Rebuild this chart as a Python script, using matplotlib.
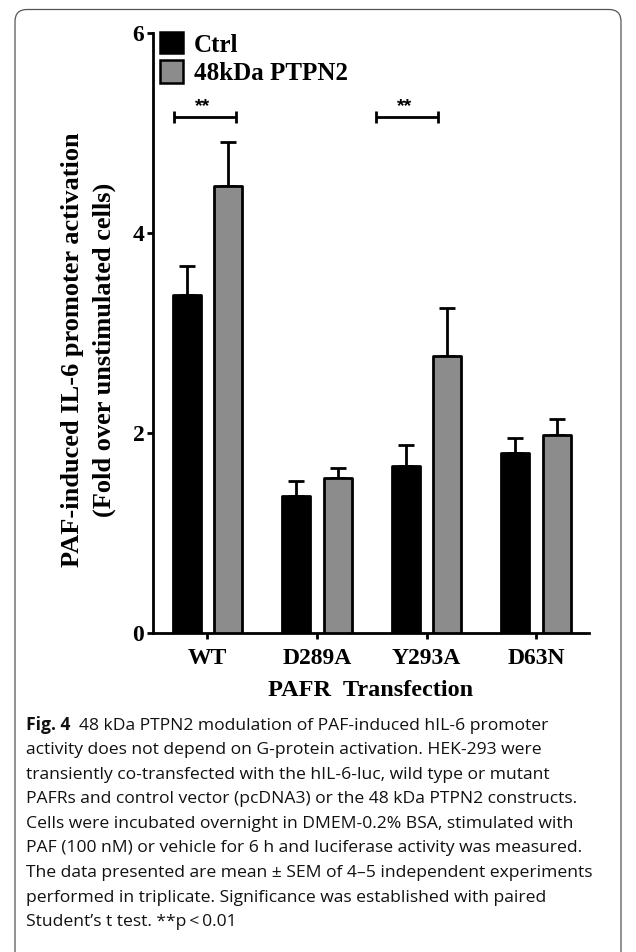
import matplotlib
matplotlib.use("Agg")
import matplotlib.pyplot as plt
import numpy as np
from matplotlib.patches import Rectangle, FancyBboxPatch

# ---------------- data ----------------
categories = ["WT", "D289A", "Y293A", "D63N"]
series_names = ["Ctrl", "48kDa PTPN2"]
ctrl_vals = [3.38, 1.37, 1.67, 1.795]
ctrl_err = [0.29, 0.15, 0.205, 0.155]
ptpn2_vals = [4.47, 1.55, 2.77, 1.98]
ptpn2_err = [0.445, 0.10, 0.48, 0.16]
yticks = [0, 2, 4, 6]
# significance brackets: (x_start, x_end, y, label)
sig_brackets = [(-0.31, 0.26, 5.16, "**"), (1.54, 2.10, 5.16, "**")]

ylabel_lines = ["PAF-induced IL-6 promoter activation", "(Fold over unstimulated cells)"]
xlabel = "PAFR  Transfection"
caption_bold = "Fig. 4"
caption_lines = [
    "48 kDa PTPN2 modulation of PAF-induced hIL-6 promoter",
    "activity does not depend on G-protein activation. HEK-293 were",
    "transiently co-transfected with the hIL-6-luc, wild type or mutant",
    "PAFRs and control vector (pcDNA3) or the 48 kDa PTPN2 constructs.",
    "Cells were incubated overnight in DMEM-0.2% BSA, stimulated with",
    "PAF (100 nM) or vehicle for 6 h and luciferase activity was measured.",
    "The data presented are mean \u00b1 SEM of 4\u20135 independent experiments",
    "performed in triplicate. Significance was established with paired",
    "Student\u2019s t test. **p\u2009<\u20090.01",
]

W, H = 636, 952
DPI = 100
fig = plt.figure(figsize=(W / DPI, H / DPI), dpi=DPI)
fig.patch.set_facecolor("white")

serif = ["Liberation Serif", "DejaVu Serif"]
sans = ["Open Sans", "DejaVu Sans"]
GRAY = "#8c8c8c"

# axes in pixel layout
ax_l, ax_r, ax_t, ax_b = 152.7, 589.3, 33.3, 632.7
ax = fig.add_axes([ax_l / W, 1 - ax_b / H, (ax_r - ax_l) / W, (ax_b - ax_t) / H])

x = np.arange(len(categories))
off = 0.19
bw = 0.255
lw_bar = 2.0

for vals, errs, xpos, color in [(ctrl_vals, ctrl_err, x - off, "black"),
                                (ptpn2_vals, ptpn2_err, x + off, GRAY)]:
    ax.errorbar(xpos, vals, yerr=[np.zeros(len(errs)), errs], fmt="none",
                ecolor="black", elinewidth=2.0, capsize=5.6, capthick=2.0, zorder=2)
    ax.bar(xpos, vals, width=bw, color=color, edgecolor="black",
           linewidth=lw_bar, zorder=3, joinstyle="round")

for x0, x1, yb, lab in sig_brackets:
    ax.plot([x0, x1], [yb, yb], color="black", lw=2.0, solid_capstyle="butt", zorder=4)
    for xx in (x0, x1):
        ax.plot([xx, xx], [yb - 0.058, yb + 0.058], color="black", lw=2.0,
                solid_capstyle="butt", zorder=4)
    ax.text((x0 + x1) / 2 - 0.02, yb + 0.02, lab, ha="center", va="bottom",
            fontsize=14, fontweight="bold", family=["Liberation Sans", "DejaVu Sans"])

ax.set_xlim(-0.5, 3.485)
ax.set_ylim(0, 6)
ax.set_yticks(yticks)
ax.set_yticklabels([str(t) for t in yticks])
ax.set_xticks(x)
ax.set_xticklabels(categories)
for s in ["top", "right"]:
    ax.spines[s].set_visible(False)
for s in ["left", "bottom"]:
    ax.spines[s].set_linewidth(2.0)
ax.tick_params(axis="both", direction="out", length=4.5, width=2.0, color="black")
ax.tick_params(axis="y", pad=1.5)
ax.tick_params(axis="x", pad=6.5)
for lab in ax.get_yticklabels() + ax.get_xticklabels():
    lab.set_family(serif)
    lab.set_fontweight("bold")
    lab.set_fontsize(17)

# x label
fig.text((ax_l + ax_r) / 2 / W, 1 - 690 / H, xlabel, ha="center", va="center",
         fontsize=17.5, fontweight="bold", family=serif)

# y label (two lines)
fig.text(73 / W, 1 - 350 / H, ylabel_lines[0], rotation=90, ha="center", va="center",
         fontsize=19, fontweight="bold", family=serif)
fig.text(104 / W, 1 - 350 / H, ylabel_lines[1], rotation=90, ha="center", va="center",
         fontsize=19, fontweight="bold", family=serif)

# legend (manual)
leg_rows = [(32, 53, "black"), (60, 83, GRAY)]
for (top, bot, col), name in zip(leg_rows, series_names):
    fig.patches.append(Rectangle((160 / W, 1 - bot / H), 23 / W, (bot - top) / H,
                                 facecolor=col, edgecolor="black", linewidth=1.8,
                                 transform=fig.transFigure, figure=fig))
    fig.text(194 / W, 1 - (top + bot) / 2 / H, name, ha="left", va="center_baseline",
             fontsize=18, fontweight="bold", family=serif)

# border box (rounded, open at bottom)
border = FancyBboxPatch((15 / DPI, -0.5), (621 - 15) / DPI, (H - 9.5) / DPI + 0.5,
                        boxstyle="round,pad=0,rounding_size=0.12",
                        facecolor="none", edgecolor="#555555", linewidth=0.9,
                        transform=fig.dpi_scale_trans, figure=fig)
fig.patches.append(border)

# caption
cap_x = 26
cap_y0 = 725.5
cap_dy = 24.6
cap_fs = 12.6
fig.canvas.draw()
renderer = fig.canvas.get_renderer()
tb = fig.text(cap_x / W, 1 - cap_y0 / H, caption_bold, ha="left", va="center",
              fontsize=cap_fs, fontweight="bold", family=sans, color="#111111")
bb = tb.get_window_extent(renderer=renderer)
first_x = bb.x1 + 9
for i, line in enumerate(caption_lines):
    xx = first_x if i == 0 else cap_x
    fig.text(xx / W, 1 - (cap_y0 + i * cap_dy) / H, line, ha="left", va="center",
             fontsize=cap_fs, family=sans, color="#111111")

fig.savefig("out.png", dpi=DPI)
